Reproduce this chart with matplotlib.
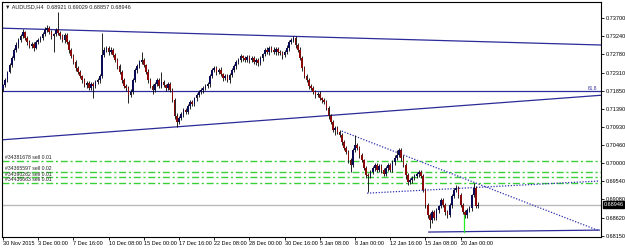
import numpy as np
import matplotlib
matplotlib.use('Agg')
import matplotlib.pyplot as plt

plt.rcParams['font.family'] = ['Liberation Sans', 'DejaVu Sans']

# AUDUSD H4 candles, bar 0 = 30 Nov 2015, one bar = 4 hours
first_open = 0.7190
closes = [
    0.7199, 0.7212, 0.7233, 0.7250, 0.7268, 0.7289, 0.7301, 0.7314, 0.7324, 0.7334, 0.7319, 0.7309, 0.7299, 0.7304, 0.7294, 0.7309,
    0.7314, 0.7319, 0.7329, 0.7339, 0.7345, 0.7334, 0.7324, 0.7329, 0.7339, 0.7332, 0.7324, 0.7314, 0.7327, 0.7309, 0.7289, 0.7273,
    0.7258, 0.7243, 0.7233, 0.7222, 0.7212, 0.7199, 0.7205, 0.7192, 0.7202, 0.7197, 0.7207, 0.7212, 0.7222, 0.7276, 0.7289, 0.7294,
    0.7283, 0.7289, 0.7276, 0.7263, 0.7248, 0.7233, 0.7212, 0.7197, 0.7192, 0.7174, 0.7182, 0.7212, 0.7238, 0.7248, 0.7258, 0.7263,
    0.7250, 0.7233, 0.7212, 0.7197, 0.7187, 0.7202, 0.7212, 0.7197, 0.7207, 0.7199, 0.7192, 0.7202, 0.7187, 0.7161, 0.7121, 0.7105,
    0.7115, 0.7126, 0.7136, 0.7131, 0.7146, 0.7156, 0.7151, 0.7166, 0.7174, 0.7182, 0.7187, 0.7192, 0.7197, 0.7202, 0.7222, 0.7238,
    0.7243, 0.7233, 0.7238, 0.7227, 0.7217, 0.7222, 0.7212, 0.7225, 0.7238, 0.7248, 0.7258, 0.7263, 0.7273, 0.7268, 0.7263, 0.7271,
    0.7263, 0.7268, 0.7258, 0.7263, 0.7255, 0.7268, 0.7278, 0.7289, 0.7283, 0.7294, 0.7289, 0.7283, 0.7291, 0.7283, 0.7281, 0.7276,
    0.7283, 0.7294, 0.7309, 0.7314, 0.7319, 0.7301, 0.7289, 0.7268, 0.7243, 0.7222, 0.7212, 0.7197, 0.7192, 0.7182, 0.7174, 0.7177,
    0.7166, 0.7161, 0.7156, 0.7141, 0.7121, 0.7105, 0.7085, 0.7090, 0.7080, 0.7072, 0.7054, 0.7039, 0.7029, 0.7008, 0.6996, 0.7034,
    0.7047, 0.7039, 0.7021, 0.7008, 0.6988, 0.6970, 0.6968, 0.6978, 0.6988, 0.6996, 0.6983, 0.6993, 0.6983, 0.6973, 0.6988, 0.6996,
    0.6983, 0.7003, 0.7014, 0.7021, 0.7034, 0.7014, 0.6996, 0.6970, 0.6952, 0.6957, 0.6963, 0.6968, 0.6973, 0.6978, 0.6968, 0.6932,
    0.6894, 0.6868, 0.6856, 0.6876, 0.6861, 0.6881, 0.6891, 0.6906, 0.6894, 0.6876, 0.6868, 0.6894, 0.6917, 0.6932, 0.6937, 0.6919,
    0.6894, 0.6876, 0.6868, 0.6881, 0.6886, 0.6919, 0.6937, 0.6892, 0.68946,
]
# wick length above / below the body, in pips
wick_up = [
    4, 5, 3, 6, 4, 5, 8, 6, 4, 7, 3, 5, 6, 4, 5, 6,
    5, 4, 6, 8, 7, 4, 5, 4, 6, 45, 5, 6, 5, 4, 5, 4,
    5, 4, 6, 5, 4, 6, 5, 4, 6, 5, 4, 6, 5, 56, 6, 5,
    4, 6, 5, 4, 6, 5, 4, 6, 5, 4, 6, 5, 4, 6, 5, 20,
    5, 4, 6, 5, 4, 6, 5, 4, 26, 5, 4, 6, 5, 4, 5, 6,
    5, 4, 6, 5, 4, 6, 5, 4, 6, 5, 4, 6, 5, 4, 6, 5,
    6, 4, 5, 6, 4, 5, 6, 4, 5, 6, 4, 5, 6, 4, 5, 6,
    4, 5, 6, 4, 5, 6, 4, 5, 6, 4, 5, 6, 4, 5, 6, 4,
    5, 6, 4, 5, 6, 4, 5, 6, 4, 5, 6, 4, 5, 6, 4, 5,
    6, 4, 5, 6, 4, 5, 6, 4, 5, 6, 4, 5, 6, 4, 5, 6,
    25, 4, 5, 6, 4, 5, 6, 4, 5, 6, 4, 5, 6, 4, 5, 6,
    4, 5, 6, 13, 4, 5, 6, 4, 5, 6, 4, 5, 6, 4, 5, 6,
    4, 5, 6, 4, 5, 6, 4, 5, 6, 4, 5, 6, 4, 5, 8, 4,
    5, 6, 4, 5, 6, 4, 13, 5, 8,
]
wick_dn = [
    6, 4, 5, 3, 6, 4, 5, 7, 5, 4, 6, 8, 5, 6, 7, 4,
    4, 6, 5, 4, 5, 6, 8, 40, 5, 6, 7, 5, 8, 6, 7, 6,
    6, 7, 5, 6, 8, 5, 7, 6, 5, 31, 6, 5, 7, 4, 5, 6,
    7, 5, 6, 5, 7, 6, 8, 5, 7, 20, 5, 6, 5, 7, 6, 4,
    6, 5, 7, 6, 10, 5, 6, 5, 6, 5, 7, 5, 6, 6, 8, 12,
    6, 5, 7, 6, 5, 7, 6, 5, 7, 6, 5, 7, 6, 5, 7, 6,
    5, 7, 6, 5, 7, 6, 5, 7, 6, 5, 7, 6, 5, 7, 6, 5,
    7, 6, 5, 7, 6, 5, 7, 6, 5, 7, 6, 5, 7, 6, 5, 10,
    6, 5, 7, 6, 5, 7, 6, 5, 7, 6, 5, 7, 6, 5, 7, 6,
    5, 7, 6, 5, 7, 6, 5, 12, 6, 5, 7, 6, 5, 7, 18, 5,
    6, 5, 7, 5, 6, 7, 41, 6, 5, 7, 6, 5, 7, 6, 5, 7,
    6, 5, 7, 6, 5, 7, 5, 10, 6, 5, 7, 6, 5, 7, 6, 5,
    7, 6, 21, 7, 6, 5, 7, 6, 5, 7, 6, 5, 7, 6, 5, 7,
    6, 5, 7, 6, 5, 7, 6, 6, 6,
]
pip = 0.0001

x_labels = ['30 Nov 2015', '3 Dec 00:00', '7 Dec 16:00', '10 Dec 08:00', '15 Dec 00:00',
            '17 Dec 16:00', '22 Dec 08:00', '28 Dec 00:00', '30 Dec 16:00', '5 Jan 08:00',
            '8 Jan 00:00', '12 Jan 16:00', '15 Jan 08:00', '20 Jan 00:00']
bars_per_label = 16
y_ticks = [0.73700, 0.73240, 0.72780, 0.72310, 0.71850, 0.71390, 0.70930,
           0.70460, 0.70000, 0.69540, 0.69080, 0.68620, 0.68150]

# chart objects: (bar, price) anchors
trend_top = [(0, 0.7344), (216, 0.7310)]
trend_rise = [(0, 0.7060), (216, 0.7150)]
fib_level = 0.7183
fib_name = '61.8'
trend_dot_down = [(154, 0.7082), (271, 0.6828)]
trend_dot_up = [(165.5, 0.6924), (271, 0.6955)]
support = [(193.5, 0.6825), (271, 0.6830)]
vline_green = [(209.5, 0.6868), (209.5, 0.6825)]
order_names = ['#34381678 sell 0.01', '#34365597 sell 0.02', '#34390262 sell 0.01', '#34436663 sell 0.01']
order_prices = [0.7006, 0.6978, 0.6965, 0.6950]
bid = 0.68946
title = '\u25bc AUDUSD,H4  0.68921 0.69029 0.68857 0.68946'

closes = np.array(closes)
opens = np.concatenate([[first_open], closes[:-1]])
body_hi = np.maximum(opens, closes)
body_lo = np.minimum(opens, closes)
highs = body_hi + np.array(wick_up) * pip
lows = body_lo - np.array(wick_dn) * pip
x = np.arange(len(closes))

fig = plt.figure(figsize=(6.25, 2.48), dpi=100)
ax = fig.add_axes([2 / 625, 11 / 248, 599 / 625, 235 / 248])
ax.set_xlim(-0.45, 271.8)
ax.set_ylim(0.68124, 0.74107)

# orders
for name, p in zip(order_names, order_prices):
    ax.axhline(p, color='#3ad03a', lw=1.0, ls=(0, (5, 2, 1.5, 2)), zorder=1)
    ax.text(1, p + 0.00012, name, fontsize=3.7, color='#222222', va='bottom', ha='left')

# bid line
ax.axhline(bid, color='#bbbbbb', lw=1.0, zorder=1)

# candles
up = closes >= opens
ax.vlines(x, lows, highs, color='black', lw=0.6, zorder=3)
ax.bar(x[up], (body_hi - body_lo)[up] + 0.00003, bottom=body_lo[up], width=0.8,
       color='#0b0b55', zorder=4, linewidth=0)
ax.bar(x[~up], (body_hi - body_lo)[~up] + 0.00003, bottom=body_lo[~up], width=0.8,
       color='#8a0a0a', zorder=4, linewidth=0)

# trend lines
blue = '#2b2b99'
ax.axline(trend_top[0], trend_top[1], color=blue, lw=0.9, zorder=2)
ax.axline(trend_rise[0], trend_rise[1], color=blue, lw=0.9, zorder=2)
ax.axhline(fib_level, color=blue, lw=0.9, zorder=2)
ax.text(270, fib_level + 0.0002, fib_name, fontsize=3.4, color=blue, ha='right', va='bottom')
for seg in (trend_dot_down, trend_dot_up):
    ax.plot([seg[0][0], seg[1][0]], [seg[0][1], seg[1][1]], color='#3030b0', lw=0.9,
            ls=(0, (1, 1.3)), zorder=2)
ax.plot([support[0][0], support[1][0]], [support[0][1], support[1][1]], color=blue, lw=0.9, zorder=2)
ax.plot([vline_green[0][0], vline_green[1][0]], [vline_green[0][1], vline_green[1][1]],
        color='#22ee22', lw=0.9, zorder=5)

# axes
for s in ax.spines.values():
    s.set_color('black')
    s.set_linewidth(0.8)
ax.yaxis.tick_right()
ax.set_yticks(y_ticks)
ax.set_yticklabels([f'{v:.5f}' for v in y_ticks])
ax.tick_params(axis='y', length=2, width=0.6, pad=1.5, labelsize=4, colors='black')
ax.set_xticks(np.arange(len(x_labels)) * bars_per_label)
ax.set_xticklabels(x_labels, ha='left')
ax.tick_params(axis='x', length=2, width=0.6, pad=1.2, labelsize=4, colors='black')

ax.text(1.004, bid, f'{bid:.5f}', transform=ax.get_yaxis_transform(), fontsize=4, color='white',
        va='center', ha='left', bbox=dict(boxstyle='square,pad=0.15', fc='black', ec='black'))

fig.text(5 / 625, 1 - 7 / 248, title, fontsize=4, color='#222222', va='center', ha='left')

fig.savefig('out.png', dpi=100, facecolor='white')
